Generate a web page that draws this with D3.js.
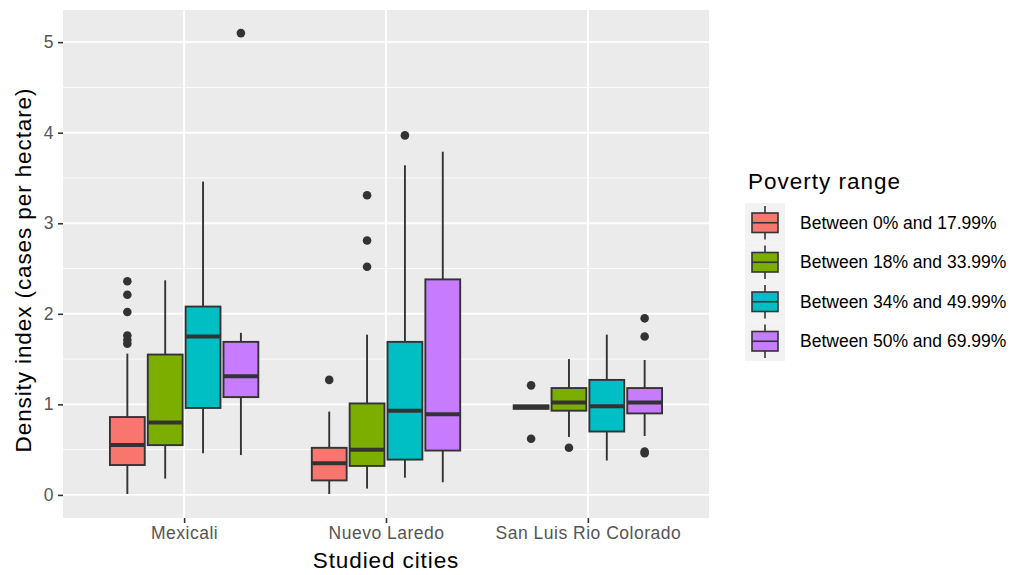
<!DOCTYPE html>
<html lang="en">
<head>
  <meta charset="utf-8">
  <title>Density index by city and poverty range</title>
  <script src="https://d3js.org/d3.v7.min.js" charset="utf-8"></script>
  <style type="text/css">
    body { margin: 0; background: #fff; }
    text { font-family: "Liberation Sans", Arial, sans-serif; }
  </style>
</head>
<body>
  <svg id="chart" width="1014" height="575" xmlns="http://www.w3.org/2000/svg"></svg>
  <script type="text/javascript">
    // data, [city][range]
    var cities = ['Mexicali', 'Nuevo Laredo', 'San Luis Rio Colorado'];
    var ranges = ['Between 0% and 17.99%', 'Between 18% and 33.99%', 'Between 34% and 49.99%', 'Between 50% and 69.99%'];
    var colors = ['#F8766D', '#7CAE00', '#00BFC4', '#C77CFF'];
    var lowerWhisker = [[0.01, 0.18, 0.46, 0.44], [0.01, 0.07, 0.19, 0.14], [0.95, 0.64, 0.38, 0.65]];
    var q1 = [[0.33, 0.55, 0.96, 1.08], [0.16, 0.32, 0.39, 0.49], [0.95, 0.93, 0.70, 0.90]];
    var median = [[0.55, 0.80, 1.75, 1.31], [0.35, 0.50, 0.93, 0.89], [0.97, 1.02, 0.98, 1.02]];
    var q3 = [[0.86, 1.55, 2.08, 1.69], [0.52, 1.01, 1.69, 2.38], [0.99, 1.18, 1.27, 1.18]];
    var upperWhisker = [[1.56, 2.37, 3.46, 1.79], [0.92, 1.77, 3.64, 3.79], [0.99, 1.50, 1.77, 1.49]];
    var outliers = [
      [[1.67, 1.71, 1.76, 2.02, 2.21, 2.36], [], [], [5.1]],
      [[1.27], [2.52, 2.81, 3.31], [3.97], []],
      [[1.21, 0.62], [0.52], [], [1.95, 1.75, 0.48, 0.46]]
    ];
    var yTicks = [0, 1, 2, 3, 4, 5];

    var svg = d3.select('#chart');
    var panel = { left: 63, top: 10, right: 709, bottom: 518 };

    // ggplot: 0.6 expansion each side of a discrete axis
    var xs = d3.scaleLinear().domain([0.4, 3.6]).range([panel.left, panel.right]);
    var cx = function(c) { return xs(cities.indexOf(c) + 1); };
    var unit = xs(1) - xs(0);
    var dodge = d3.scaleBand().domain(ranges).range([-0.375 * unit, 0.375 * unit]);
    var boxW = dodge.bandwidth() * 0.92;

    var y = d3.scaleLinear().domain([-0.255, 5.355]).range([panel.bottom, panel.top]);
    var ink = '#333333';

    // panel background and grid
    svg.append('rect')
      .attr('x', panel.left).attr('y', panel.top)
      .attr('width', panel.right - panel.left).attr('height', panel.bottom - panel.top)
      .style('fill', '#ebebeb');

    var minor = d3.range(0.5, 5.5, 1);
    svg.append('g').selectAll('line').data(minor).enter().append('line')
      .attr('x1', panel.left).attr('x2', panel.right)
      .attr('y1', function(d) { return y(d); }).attr('y2', function(d) { return y(d); })
      .style('stroke', '#fff').style('stroke-width', 0.9);
    svg.append('g').selectAll('line').data(yTicks).enter().append('line')
      .attr('x1', panel.left).attr('x2', panel.right)
      .attr('y1', function(d) { return y(d); }).attr('y2', function(d) { return y(d); })
      .style('stroke', '#fff').style('stroke-width', 1.9);
    svg.append('g').selectAll('line').data(cities).enter().append('line')
      .attr('x1', cx).attr('x2', cx)
      .attr('y1', panel.top).attr('y2', panel.bottom)
      .style('stroke', '#fff').style('stroke-width', 1.9);

    // axes
    var yAxis = svg.append('g')
      .attr('transform', 'translate(' + panel.left + ',0)')
      .call(d3.axisLeft(y).tickValues(yTicks).tickSize(5).tickPadding(4).tickFormat(d3.format('d')));
    var xAxis = svg.append('g')
      .attr('transform', 'translate(0,' + panel.bottom + ')')
      .call(d3.axisBottom(xs).tickValues([1, 2, 3]).tickSize(5).tickPadding(4)
        .tickFormat(function(d) { return cities[d - 1]; }));
    [yAxis, xAxis].forEach(function(a) {
      a.select('.domain').remove();
      a.selectAll('.tick line').style('stroke', ink).style('stroke-width', 1.6);
      a.selectAll('.tick text').style('fill', '#555').style('font-size', '17.5px')
        .style('letter-spacing', '0.5px')
        .style('font-family', '"Liberation Sans", Arial, sans-serif');
    });

    // boxes
    var boxes = [];
    cities.forEach(function(c, i) {
      ranges.forEach(function(r, j) {
        boxes.push({
          city: c, range: r, color: colors[j],
          lo: lowerWhisker[i][j], q1: q1[i][j], med: median[i][j], q3: q3[i][j], hi: upperWhisker[i][j],
          out: outliers[i][j],
          cx: cx(c) + dodge(r) + dodge.bandwidth() / 2
        });
      });
    });

    var g = svg.append('g').selectAll('g').data(boxes).enter().append('g');
    g.append('line')
      .attr('x1', function(d) { return d.cx; }).attr('x2', function(d) { return d.cx; })
      .attr('y1', function(d) { return y(d.hi); }).attr('y2', function(d) { return y(d.q3); })
      .style('stroke', ink).style('stroke-width', 1.9);
    g.append('line')
      .attr('x1', function(d) { return d.cx; }).attr('x2', function(d) { return d.cx; })
      .attr('y1', function(d) { return y(d.q1); }).attr('y2', function(d) { return y(d.lo); })
      .style('stroke', ink).style('stroke-width', 1.9);
    g.append('rect')
      .attr('x', function(d) { return d.cx - boxW / 2; })
      .attr('width', boxW)
      .attr('y', function(d) { return y(d.q3); })
      .attr('height', function(d) { return y(d.q1) - y(d.q3); })
      .style('fill', function(d) { return d.color; })
      .style('stroke', ink).style('stroke-width', 1.9);
    g.append('line')
      .attr('x1', function(d) { return d.cx - boxW / 2; }).attr('x2', function(d) { return d.cx + boxW / 2; })
      .attr('y1', function(d) { return y(d.med); }).attr('y2', function(d) { return y(d.med); })
      .style('stroke', ink).style('stroke-width', 4);
    g.selectAll('circle').data(function(d) { return d.out.map(function(v) { return { cx: d.cx, v: v }; }); })
      .enter().append('circle')
      .attr('cx', function(d) { return d.cx; })
      .attr('cy', function(d) { return y(d.v); })
      .attr('r', 4.3)
      .style('fill', ink);

    // axis titles
    svg.append('text')
      .attr('x', (panel.left + panel.right) / 2).attr('y', 568)
      .attr('text-anchor', 'middle').style('font-size', '22.5px').style('letter-spacing', '0.9px')
      .style('fill', '#000')
      .text('Studied cities');
    svg.append('text')
      .attr('transform', 'translate(31,' + ((panel.top + panel.bottom) / 2 + 6) + ') rotate(-90)')
      .attr('text-anchor', 'middle').style('font-size', '22.5px').style('letter-spacing', '0.9px')
      .style('fill', '#000')
      .text('Density index (cases per hectare)');

    // legend
    var legend = svg.append('g').attr('transform', 'translate(745,0)');
    legend.append('text').attr('x', 3).attr('y', 189)
      .style('font-size', '22.5px').style('letter-spacing', '1px').style('fill', '#000').text('Poverty range');
    var keyH = 39.5;
    var key = legend.selectAll('g.key').data(ranges).enter().append('g')
      .attr('class', 'key')
      .attr('transform', function(d, i) { return 'translate(0,' + (203 + i * keyH) + ')'; });
    key.append('rect').attr('width', 40).attr('height', keyH).style('fill', '#f2f2f2');
    key.append('line').attr('x1', 20).attr('x2', 20).attr('y1', 3).attr('y2', keyH - 3)
      .style('stroke', ink).style('stroke-width', 1.6);
    key.append('rect').attr('x', 7).attr('y', 10).attr('width', 26).attr('height', keyH - 20)
      .style('fill', function(d, i) { return colors[i]; })
      .style('stroke', ink).style('stroke-width', 1.6);
    key.append('line').attr('x1', 7).attr('x2', 33).attr('y1', keyH / 2).attr('y2', keyH / 2)
      .style('stroke', ink).style('stroke-width', 1.6);
    key.append('text').attr('x', 55).attr('y', keyH / 2 + 6)
      .style('font-size', '17.5px').style('fill', '#000')
      .text(function(d) { return d; });
  </script>
</body>
</html>
